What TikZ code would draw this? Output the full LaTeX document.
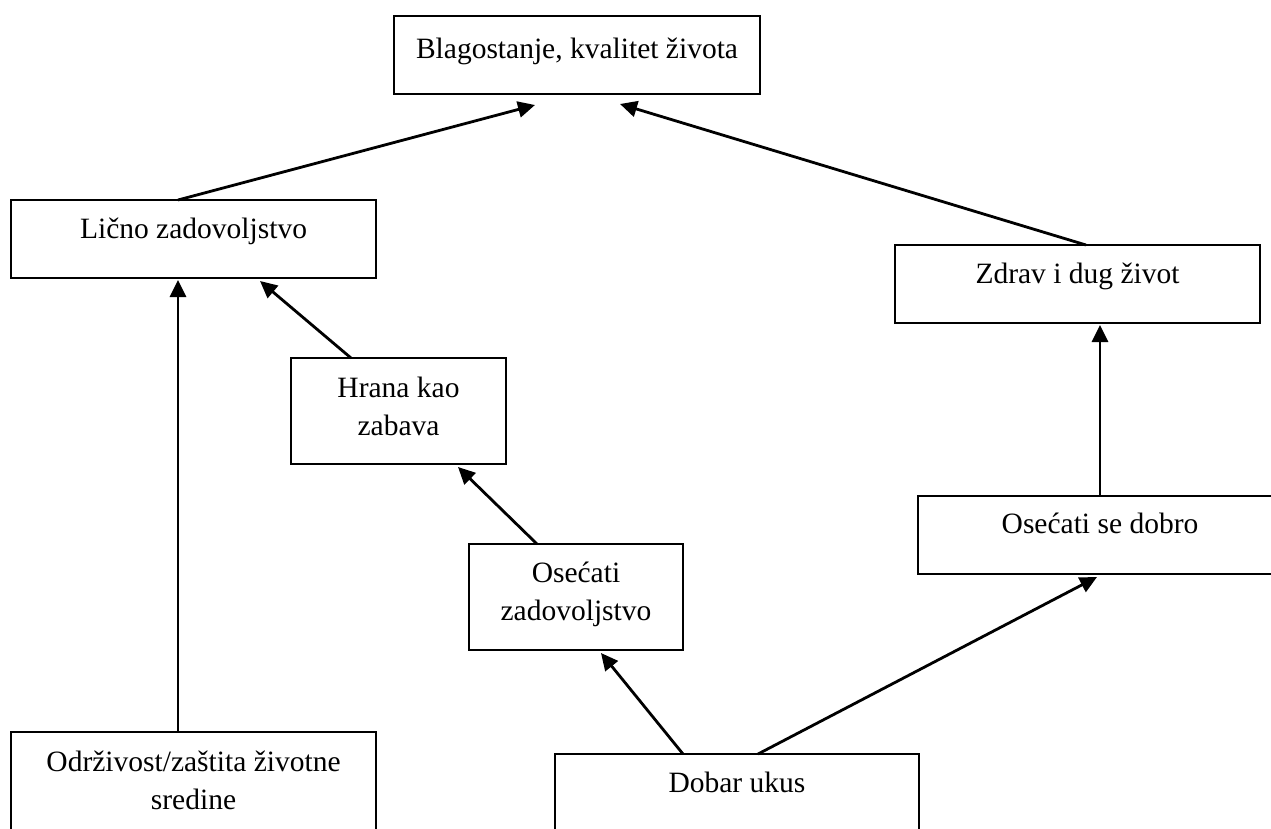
\documentclass[tikz,border=0pt]{standalone}
\usepackage{fontspec}
\setmainfont{Liberation Serif}
\usetikzlibrary{arrows.meta,calc}
\begin{document}
\begin{tikzpicture}[x=1pt,y=-1pt,
  box/.style={draw,line width=2.6pt,rectangle,anchor=north west,inner sep=0pt,outer sep=0pt},
  lbl/.style={font=\fontsize{29.5}{38}\selectfont,align=center,anchor=base,inner sep=0pt},
  link/.style={line width=2.8pt,-{Triangle[length=17pt,width=16pt]}}]
\useasboundingbox (0,0) rectangle (1271,828);
\clip (0,0) rectangle (1271,828);
% boxes
\node[box,minimum width=366pt,minimum height=78pt] (top) at (394,16) {};
\node[box,minimum width=365pt,minimum height=78pt] (lic) at (11,200) {};
\node[box,minimum width=365pt,minimum height=78pt] (zdr) at (895,245) {};
\node[box,minimum width=215pt,minimum height=106pt] (hra) at (291,358) {};
\node[box,minimum width=214pt,minimum height=106pt] (ozd) at (469,544) {};
\node[box,minimum width=364pt,minimum height=78pt] (odo) at (918,496) {};
\node[box,minimum width=365pt,minimum height=140pt] (odr) at (11,732) {};
\node[box,minimum width=364pt,minimum height=120pt] (dob) at (555,754) {};
% labels (two-line labels are placed by the baseline of their last line)
\node[lbl] (ttop) at ($(top.north)+(0,42)$) {Blagostanje, kvalitet života};
\node[lbl] (tlic) at ($(lic.north)+(0,38)$) {Lično zadovoljstvo};
\node[lbl] (tzdr) at ($(zdr.north)+(0,38)$) {Zdrav i dug život};
\node[lbl] (thra) at ($(hra.north)+(0,77)$) {Hrana kao\\zabava};
\node[lbl] (tozd) at ($(ozd.north)+(0,76)$) {Osećati\\zadovoljstvo};
\node[lbl] (todo) at ($(odo.north)+(0,37)$) {Osećati se dobro};
\node[lbl] (todr) at ($(odr.north)+(0,77)$) {Održivost/zaštita životne\\sredine};
\node[lbl] (tdob) at ($(dob.north)+(0,38)$) {Dobar ukus};
% connectors
\draw[link] ($(lic.north west)+(167,0)$) -- ($(top.south west)+(141,11)$);
\draw[link] ($(zdr.north west)+(191,0)$) -- ($(top.south west)+(226,10)$);
\draw[link] ($(odr.north west)+(167,0)$) -- ($(lic.south west)+(167,2)$);
\draw[link] ($(hra.north west)+(60,0)$) -- ($(lic.south west)+(249,3)$);
\draw[link] ($(ozd.north west)+(68,0)$) -- ($(hra.south west)+(167,3)$);
\draw[link] ($(dob.north west)+(128,0)$) -- ($(ozd.south west)+(132,3)$);
\draw[link] ($(dob.north west)+(203,0)$) -- ($(odo.south west)+(179,3)$);
\draw[link] ($(odo.north)$) -- ($(zdr.south west)+(205,2)$);
\end{tikzpicture}
\end{document}
